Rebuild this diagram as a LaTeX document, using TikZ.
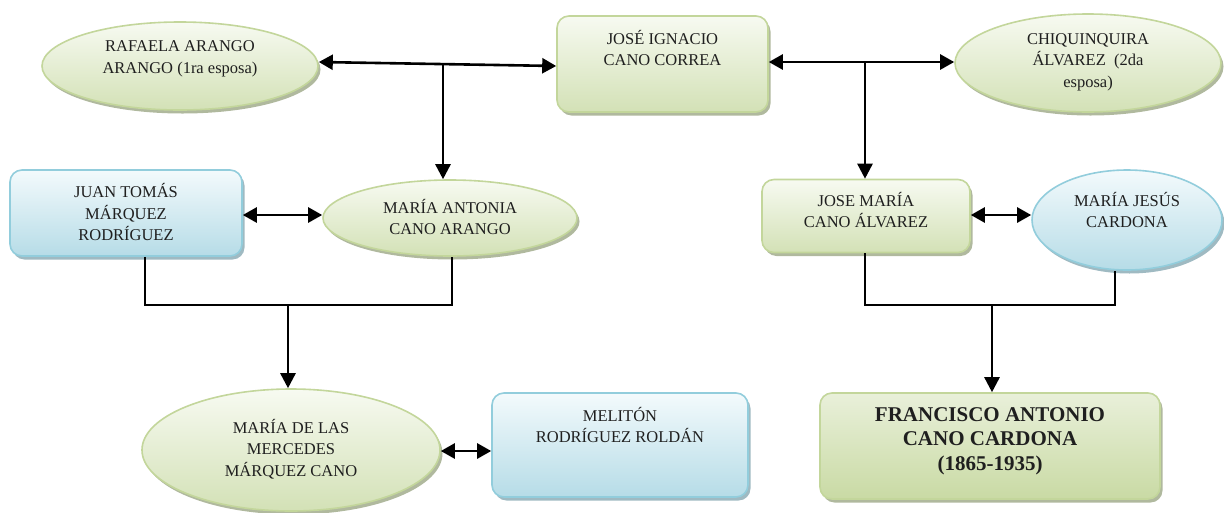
\documentclass[tikz,border=0pt]{standalone}
\usepackage{fontspec}
\setmainfont{Liberation Serif}
\usetikzlibrary{arrows.meta,shapes.geometric,shadows}
\definecolor{gTop}{HTML}{F7FAF1}
\definecolor{gBot}{HTML}{D3E1B6}
\definecolor{gLine}{HTML}{C3D69B}
\definecolor{fTop}{HTML}{E9F0DA}
\definecolor{fBot}{HTML}{C9DAA4}
\definecolor{bTop}{HTML}{F3FAFC}
\definecolor{bBot}{HTML}{B6DCE7}
\definecolor{bLine}{HTML}{92CDDC}
\definecolor{ink}{HTML}{1F1F1F}
\definecolor{shadowG}{HTML}{A3AD8E}
\definecolor{shadowB}{HTML}{8FAEB8}
\begin{document}
\begin{tikzpicture}[x=1pt,y=-1pt,
  base/.style={line width=1.6pt, inner sep=0pt},
  gshape/.style={base, draw=gLine, top color=gTop, bottom color=gBot,
    drop shadow={shadow xshift=2.5pt, shadow yshift=-3.5pt, fill=shadowG, opacity=0.85}},
  bshape/.style={base, draw=bLine, top color=bTop, bottom color=bBot,
    drop shadow={shadow xshift=2.5pt, shadow yshift=-3.5pt, fill=shadowB, opacity=0.85}},
  gbox/.style={gshape, rectangle, rounded corners=12pt},
  fbox/.style={gbox, top color=fTop, bottom color=fBot},
  bbox/.style={bshape, rectangle, rounded corners=12pt},
  gell/.style={gshape, ellipse},
  bell/.style={bshape, ellipse},
  txt/.style={align=center, font=\fontsize{16.5}{21.5}\selectfont, text=ink, inner sep=0pt},
  btxt/.style={align=center, font=\fontsize{21}{24.5}\selectfont\bfseries, text=ink, inner sep=0pt},
  arr/.style={line width=2.6pt, {Triangle[length=14pt,width=15pt]}-{Triangle[length=14pt,width=15pt]}},
  down/.style={line width=2.6pt, -{Triangle[length=15pt,width=15pt]}},
  link/.style={line width=1.8pt}
]
\fill[white] (0,0) rectangle (1224,512);
\useasboundingbox (0,0) rectangle (1224,512);

% shapes
\node[gell, minimum width=276pt, minimum height=88pt] (raf) at (180,66) {};
\node[gbox, minimum width=211pt, minimum height=96pt] (jose) at (662.5,64) {};
\node[gell, minimum width=266pt, minimum height=98pt] (chiq) at (1088,63) {};
\node[bbox, minimum width=232pt, minimum height=86pt] (juan) at (126,213) {};
\node[gell, minimum width=254pt, minimum height=76pt] (mA) at (450,218) {};
\node[gbox, minimum width=208pt, minimum height=73pt] (josem) at (866,216) {};
\node[bell, minimum width=190pt, minimum height=100pt] (mjesus) at (1127,220) {};
\node[gell, minimum width=298pt, minimum height=122pt] (merc) at (291,450) {};
\node[bbox, minimum width=256pt, minimum height=104pt] (melit) at (620,445) {};
\node[fbox, minimum width=340pt, minimum height=106pt] (franc) at (990,446) {};

% texts
\node[txt] (traf) at (180,59) {RAFAELA ARANGO\\ARANGO (1ra esposa)};
\node[txt] (tjose) at (662.5,48) {JOSÉ IGNACIO\\CANO CORREA};
\node[txt] (tchiq) at (1088,62) {CHIQUINQUIRA\\ÁLVAREZ\ \ (2da\\esposa)};
\node[txt] (tjuan) at (126,212) {JUAN TOMÁS\\MÁRQUEZ\\RODRÍGUEZ};
\node[txt] (tmA) at (450,217) {MARÍA ANTONIA\\CANO ARANGO};
\node[txt] (tjosem) at (866,210) {JOSE MARÍA\\CANO ÁLVAREZ};
\node[txt] (tmjesus) at (1127,210) {MARÍA JESÚS\\CARDONA};
\node[txt] (tmerc) at (291,449) {MARÍA DE LAS\\MERCEDES\\MÁRQUEZ CANO};
\node[txt] (tmelit) at (620,425) {MELITÓN\\RODRÍGUEZ ROLDÁN};
\node[btxt] (tfranc) at (990,441) {FRANCISCO ANTONIO\\CANO CARDONA\\(1865-1935)};

% connectors
\coordinate (j1) at (443,64);
\coordinate (j2) at (865,62);
\coordinate (c1) at (145,305);
\coordinate (c2) at (452,305);
\coordinate (c3) at (288,305);
\coordinate (c4) at (865,305);
\coordinate (c5) at (1115,305);
\coordinate (c6) at (992,305);

\draw[arr] ([yshift=4pt]raf.east) -- ([yshift=-2pt]jose.west);
\draw[down] (j1) -- (j1 |- mA.north);
\draw[arr] ([yshift=2pt]jose.east) -- ([yshift=1pt]chiq.west);
\draw[down] (j2) -- (j2 |- josem.north);
\draw[arr] ([yshift=-2pt]juan.east) -- ([yshift=3pt]mA.west);
\draw[link] (c1 |- juan.south) -- (c1) -- (c2) -- (c2 |- mA.south);
\draw[down] (c3) -- (c3 |- merc.north);
\draw[arr] ([yshift=-1pt]merc.east) -- ([yshift=-6pt]melit.west);
\draw[arr] ([yshift=1pt]josem.east) -- ([yshift=5pt]mjesus.west);
\draw[link] (c4 |- josem.south) -- (c4) -- (c5) -- (c5 |- mjesus.south);
\draw[down] (c6) -- (c6 |- franc.north);
\end{tikzpicture}
\end{document}
